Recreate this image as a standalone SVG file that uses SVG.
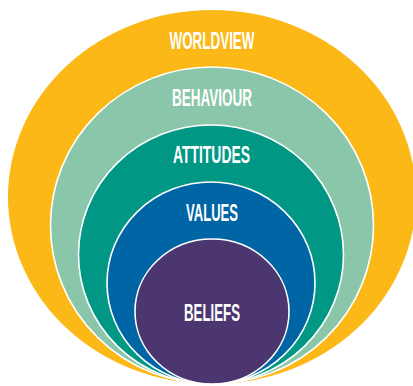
<svg xmlns="http://www.w3.org/2000/svg" width="413" height="386" viewBox="0 0 413 386">
  <style>
    .ring { stroke: #ffffff; stroke-width: 1.6; }
    .label { fill: #ffffff; font-family: "Liberation Sans", Arial, sans-serif; font-weight: bold; font-size: 23px; text-anchor: middle; }
  </style>
  <rect width="413" height="386" fill="#ffffff"/>
  <!-- nested layers, all resting on the same bottom point -->
  <g id="worldview">
    <ellipse cx="212" cy="197" rx="204" ry="187" fill="#FBB817"/>
    <text class="label" x="212" y="49" textLength="85" lengthAdjust="spacingAndGlyphs">WORLDVIEW</text>
  </g>
  <g id="behaviour">
    <ellipse class="ring" cx="212" cy="225.5" rx="161.5" ry="158.5" fill="#8AC6A9"/>
    <text class="label" x="212" y="106" textLength="80" lengthAdjust="spacingAndGlyphs">BEHAVIOUR</text>
  </g>
  <g id="attitudes">
    <ellipse class="ring" cx="211" cy="254.5" rx="132.5" ry="129.5" fill="#009885"/>
    <text class="label" x="211.5" y="163" textLength="77" lengthAdjust="spacingAndGlyphs">ATTITUDES</text>
  </g>
  <g id="values">
    <ellipse class="ring" cx="211" cy="283" rx="104" ry="101" fill="#0065A4"/>
    <text class="label" x="212" y="221" textLength="52" lengthAdjust="spacingAndGlyphs">VALUES</text>
  </g>
  <g id="beliefs">
    <ellipse class="ring" cx="212" cy="311.5" rx="77" ry="72.5" fill="#4C3670"/>
    <text class="label" x="212" y="321" textLength="56" lengthAdjust="spacingAndGlyphs">BELIEFS</text>
  </g>
  <g id="connectors"/>
</svg>
